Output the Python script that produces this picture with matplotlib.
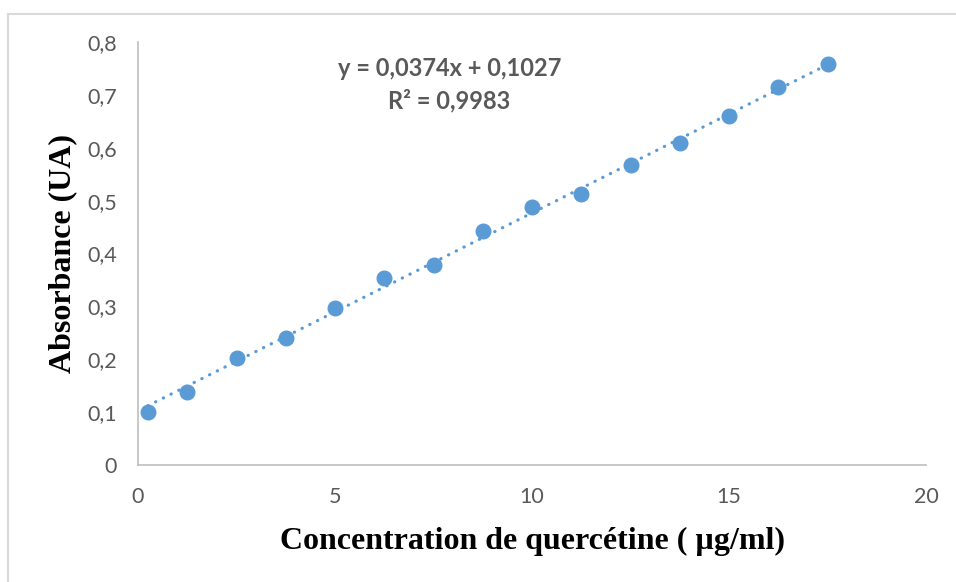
import matplotlib
matplotlib.use("Agg")
import matplotlib.pyplot as plt
from matplotlib.lines import Line2D
from matplotlib.ticker import FuncFormatter

# Calibration data: quercetin concentration vs absorbance
concentration = [0.25, 1.25, 2.5, 3.75, 5.0, 6.25, 7.5, 8.75, 10.0, 11.25, 12.5, 13.75, 15.0, 16.25, 17.5]
absorbance = [0.101, 0.139, 0.203, 0.241, 0.296, 0.353, 0.378, 0.442, 0.487, 0.513, 0.567, 0.609, 0.660, 0.714, 0.759]

# Linear regression parameters
slope = 0.0374
intercept = 0.1027
r_squared = 0.9983

x_ticks = [0, 5, 10, 15, 20]
y_ticks = [0, 0.1, 0.2, 0.3, 0.4, 0.5, 0.6, 0.7, 0.8]

blue = "#5B9BD5"
gray = "#595959"

fig = plt.figure(figsize=(9.56, 5.82), dpi=100)
ax = fig.add_axes([138 / 956, 1 - 465 / 582, (926 - 138) / 956, (465 - 42) / 582])

# Outer chart frame
fig.add_artist(Line2D([7.5 / 956, 7.5 / 956], [0, 1 - 13.5 / 582], transform=fig.transFigure,
                      color="#D9D9D9", lw=1.5))
fig.add_artist(Line2D([7.5 / 956, 1], [1 - 13.5 / 582, 1 - 13.5 / 582], transform=fig.transFigure,
                      color="#D9D9D9", lw=1.5))

# Trend line
x_fit = [concentration[0], concentration[-1]]
y_fit = [slope * x + intercept for x in x_fit]
ax.plot(x_fit, y_fit, color=blue, lw=2.3, linestyle=(0, (0.1, 2.6)),
        dash_capstyle="round", zorder=2)

# Measured points
ax.plot(concentration, absorbance, "o", color=blue, markersize=10.5, zorder=3)

ax.set_xlim(0, 20)
ax.set_ylim(0, 0.8)
ax.set_xticks(x_ticks)
ax.set_yticks(y_ticks)

comma = FuncFormatter(lambda v, p: ("%g" % round(v, 2)).replace(".", ","))
ax.xaxis.set_major_formatter(comma)
ax.yaxis.set_major_formatter(comma)

for s in ["top", "right"]:
    ax.spines[s].set_visible(False)
for s in ["left", "bottom"]:
    ax.spines[s].set_color("#BFBFBF")
    ax.spines[s].set_linewidth(1.2)

ax.tick_params(length=0, labelsize=15.5, labelcolor=gray)
ax.tick_params(axis="y", pad=15)
ax.tick_params(axis="x", pad=16)
for lab in ax.get_xticklabels() + ax.get_yticklabels():
    lab.set_fontfamily("Lato")

ax.set_xlabel("Concentration de quercétine ( µg/ml)", fontfamily="Liberation Serif",
              fontweight="bold", fontsize=23, labelpad=14)
ax.set_ylabel("Absorbance (UA)", fontfamily="Liberation Serif",
              fontweight="bold", fontsize=23, labelpad=7)

eq = "y = %s x + %s" % (("%.4f" % slope).replace(".", ","), ("%.4f" % intercept).replace(".", ","))
eq = eq.replace(" x", "x")
r2 = "R² = %s" % ("%.4f" % r_squared).replace(".", ",")
ax.text(7.9, 0.75, eq, ha="center", va="center", fontsize=17, fontweight="bold",
        color=gray, fontfamily="Lato")
ax.text(7.9, 0.689, r2, ha="center", va="center", fontsize=17, fontweight="bold",
        color=gray, fontfamily="Lato")

fig.savefig("out.png", dpi=100)
